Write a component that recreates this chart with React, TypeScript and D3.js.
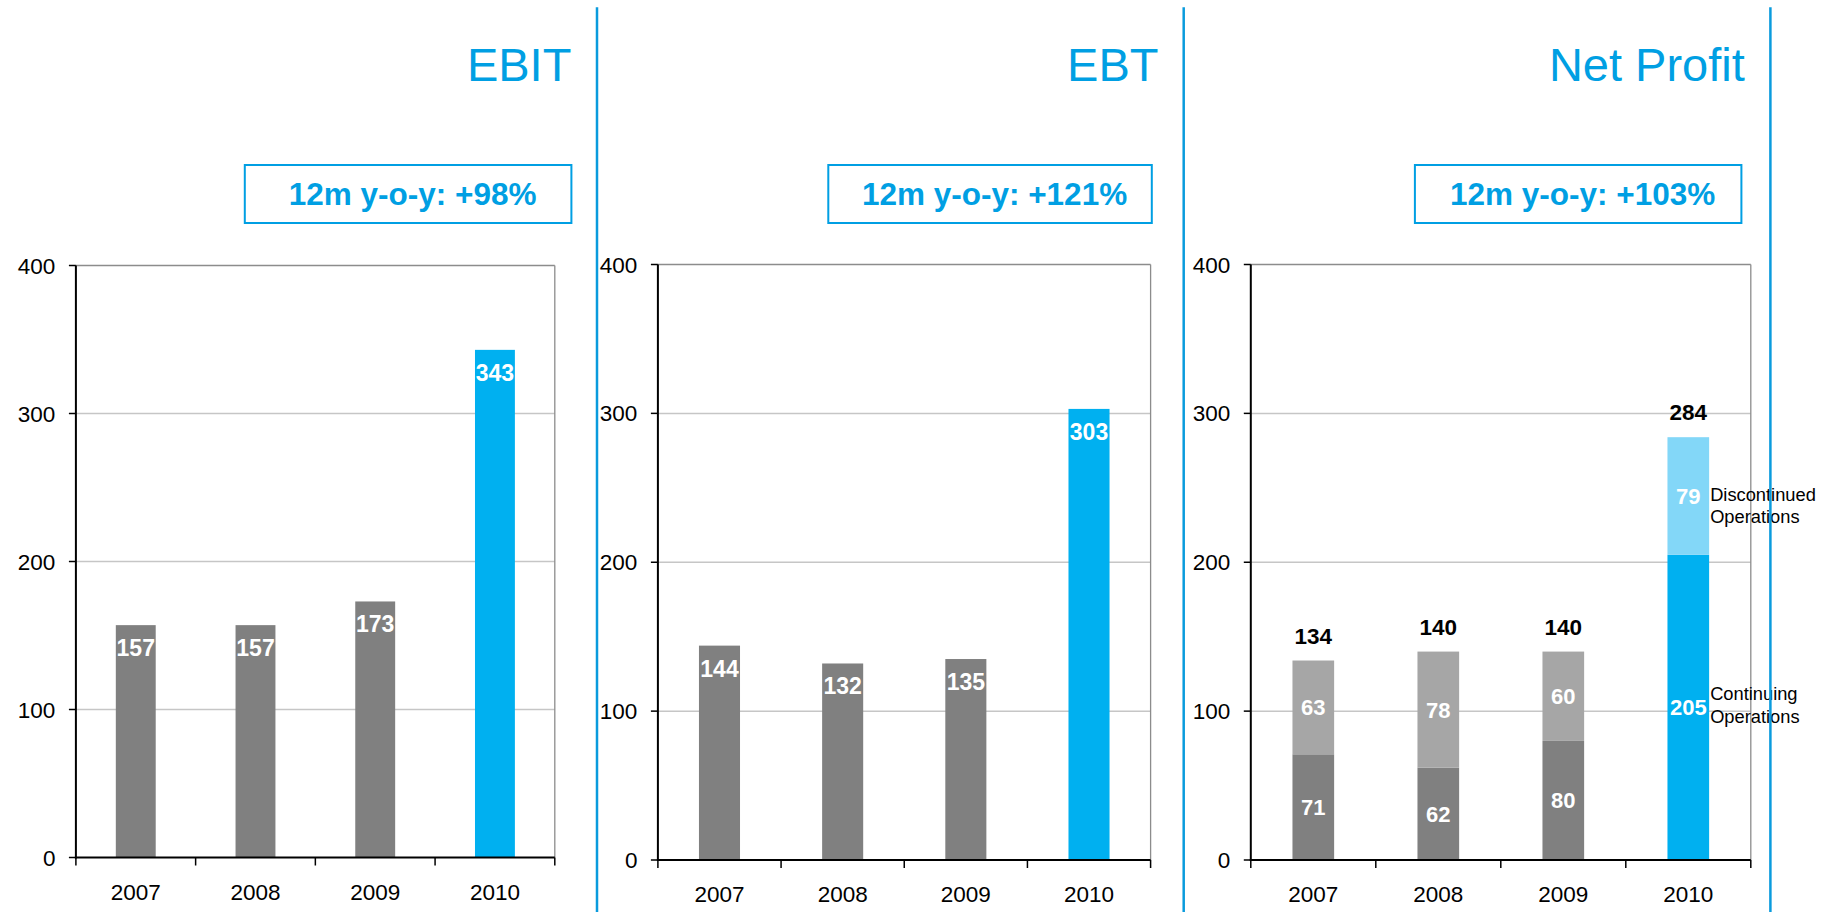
import React from 'react';
import * as d3 from 'd3';

const years = ['2007', '2008', '2009', '2010'];
const ebitValues = [157, 157, 173, 343];
const ebtValues = [144, 132, 135, 303];
const npContinuing = [71, 62, 80, 205];
const npDiscontinued = [63, 78, 60, 79];
const yTicks = [0, 100, 200, 300, 400];
const titles = ['EBIT', 'EBT', 'Net Profit'];
const yoyLabels = ['12m y-o-y: +98%', '12m y-o-y: +121%', '12m y-o-y: +103%'];
const annotationDisc = ['Discontinued', 'Operations'];
const annotationCont = ['Continuing', 'Operations'];

const W = 1840;
const H = 912;
const FONT = '"Liberation Sans", Arial, Helvetica, sans-serif';
const BLUE_TEXT = '#009FE3';
const DIVIDER = '#0A9BDD';
const GRAY = '#808080';
const LIGHT_GRAY = '#A6A6A6';
const BLUE = '#00B0F0';
const LIGHT_BLUE = '#83D7F8';

const layout = [
  { plotL: 75.9, plotR: 554.8, y0: 857.5, yTop: 265.5, titleR: 571.4, boxL: 244.8, boxR: 571.4 },
  { plotL: 657.9, plotR: 1150.6, y0: 860, yTop: 264.5, titleR: 1158.5, boxL: 828.3, boxR: 1151.8 },
  { plotL: 1250.8, plotR: 1750.8, y0: 860, yTop: 264.5, titleR: 1744.8, boxL: 1414.9, boxR: 1741.4 },
];
const dividers = [597, 1183.7, 1770.4];

function Frame({ idx, y }: { idx: number; y: d3.ScaleLinear<number, number> }) {
  const L = layout[idx];
  return (
    <g>
      {yTicks.filter((t) => t > 0 && t < 400).map((t) => (
        <line key={t} x1={L.plotL} x2={L.plotR} y1={y(t)} y2={y(t)} stroke="#C6C6C6" strokeWidth={1.5} />
      ))}
      <line x1={L.plotL} x2={L.plotR} y1={y(400)} y2={y(400)} stroke="#8C8C8C" strokeWidth={1.3} />
      <line x1={L.plotR} x2={L.plotR} y1={y(400)} y2={y(0)} stroke="#8C8C8C" strokeWidth={1.3} />
      <text x={L.titleR} y={81} textAnchor="end" fontFamily={FONT} fontSize={47} fill={BLUE_TEXT}>
        {titles[idx]}
      </text>
      <rect x={L.boxL} y={165} width={L.boxR - L.boxL} height={58} fill="none" stroke={BLUE_TEXT} strokeWidth={2} />
      <text x={(L.boxL + L.boxR) / 2 + 4.5} y={205} textAnchor="middle" fontFamily={FONT} fontWeight="bold" fontSize={31.5} fill={BLUE_TEXT}>
        {yoyLabels[idx]}
      </text>
    </g>
  );
}

function Axes({ idx, x, y }: { idx: number; x: d3.ScaleBand<string>; y: d3.ScaleLinear<number, number> }) {
  const L = layout[idx];
  const step = x.step();
  const boundaries = d3.range(years.length + 1).map((i) => L.plotL + i * step);
  return (
    <g>
      <line x1={L.plotL} x2={L.plotL} y1={y(400)} y2={y(0) + 1} stroke="#000" strokeWidth={2} />
      <line x1={L.plotL - 1} x2={L.plotR} y1={y(0)} y2={y(0)} stroke="#000" strokeWidth={2.2} />
      {yTicks.map((t) => (
        <g key={t}>
          <line x1={L.plotL - 7} x2={L.plotL} y1={y(t)} y2={y(t)} stroke="#000" strokeWidth={1.5} />
          <text x={L.plotL - 20.5} y={y(t)} dy="0.36em" textAnchor="end" fontFamily={FONT} fontSize={22.5} fill="#000">
            {t}
          </text>
        </g>
      ))}
      {boundaries.map((bx, i) => (
        <line key={i} x1={bx} x2={bx} y1={y(0)} y2={y(0) + 8} stroke="#000" strokeWidth={1.5} />
      ))}
      {years.map((yr) => (
        <text key={yr} x={(x(yr) as number) + x.bandwidth() / 2} y={y(0) + 42} textAnchor="middle" fontFamily={FONT} fontSize={22.5} fill="#000">
          {yr}
        </text>
      ))}
    </g>
  );
}

function SimplePanel({ idx, values }: { idx: number; values: number[] }) {
  const L = layout[idx];
  const x = d3.scaleBand<string>().domain(years).range([L.plotL, L.plotR]).paddingInner(2 / 3).paddingOuter(1 / 3);
  const y = d3.scaleLinear().domain([0, 400]).range([L.y0, L.yTop]);
  return (
    <g>
      <Frame idx={idx} y={y} />
      {values.map((v, i) => {
        const bx = x(years[i]) as number;
        const color = i === values.length - 1 ? BLUE : GRAY;
        return (
          <g key={i}>
            <rect x={bx} y={y(v)} width={x.bandwidth()} height={y(0) - y(v)} fill={color} />
            <text x={bx + x.bandwidth() / 2} y={y(v) + 31} textAnchor="middle" fontFamily={FONT} fontWeight="bold" fontSize={23} fill="#fff">
              {v}
            </text>
          </g>
        );
      })}
      <Axes idx={idx} x={x} y={y} />
    </g>
  );
}

function StackedPanel({ idx }: { idx: number }) {
  const L = layout[idx];
  const x = d3.scaleBand<string>().domain(years).range([L.plotL, L.plotR]).paddingInner(2 / 3).paddingOuter(1 / 3);
  const y = d3.scaleLinear().domain([0, 400]).range([L.y0, L.yTop]);
  const rows = years.map((yr, i) => ({ year: yr, cont: npContinuing[i], disc: npDiscontinued[i] }));
  const series = d3.stack<any>().keys(['cont', 'disc'])(rows);
  const last = years.length - 1;
  const colorFor = (key: string, i: number) =>
    key === 'cont' ? (i === last ? BLUE : GRAY) : i === last ? LIGHT_BLUE : LIGHT_GRAY;
  const bw = x.bandwidth();
  const lastX = (x(years[last]) as number) + bw;
  const discSeg = series[1][last];
  const contSeg = series[0][last];
  const discMid = (y(discSeg[0]) + y(discSeg[1])) / 2;
  const contMid = (y(contSeg[0]) + y(contSeg[1])) / 2;
  return (
    <g>
      <Frame idx={idx} y={y} />
      {series.map((s) =>
        s.map((seg, i) => {
          const bx = x(years[i]) as number;
          const val = seg[1] - seg[0];
          return (
            <g key={s.key + i}>
              <rect x={bx} y={y(seg[1])} width={bw} height={y(seg[0]) - y(seg[1])} fill={colorFor(s.key, i)} />
              <text
                x={bx + bw / 2}
                y={(y(seg[0]) + y(seg[1])) / 2}
                dy="0.36em"
                textAnchor="middle"
                fontFamily={FONT}
                fontWeight="bold"
                fontSize={22}
                fill="#fff"
              >
                {val}
              </text>
            </g>
          );
        })
      )}
      {rows.map((r) => {
        const total = r.cont + r.disc;
        return (
          <text key={r.year} x={(x(r.year) as number) + bw / 2} y={y(total) - 17} textAnchor="middle" fontFamily={FONT} fontWeight="bold" fontSize={22.5} fill="#000">
            {total}
          </text>
        );
      })}
      <text x={lastX + 1} y={discMid + 4.5} fontFamily={FONT} fontSize={18.3} fill="#000">
        <tspan x={lastX + 1}>{annotationDisc[0]}</tspan>
        <tspan x={lastX + 1} dy={22.6}>{annotationDisc[1]}</tspan>
      </text>
      <text x={lastX + 1} y={contMid - 7} fontFamily={FONT} fontSize={18.3} fill="#000">
        <tspan x={lastX + 1}>{annotationCont[0]}</tspan>
        <tspan x={lastX + 1} dy={22.6}>{annotationCont[1]}</tspan>
      </text>
      <Axes idx={idx} x={x} y={y} />
    </g>
  );
}

export default function App() {
  return (
    <svg width={W} height={H} viewBox={`0 0 ${W} ${H}`} style={{ position: 'absolute', left: 0, top: 0, background: '#fff' }}>
      <rect x={0} y={0} width={W} height={H} fill="#fff" />
      <SimplePanel idx={0} values={ebitValues} />
      <SimplePanel idx={1} values={ebtValues} />
      <StackedPanel idx={2} />
      {dividers.map((dx) => (
        <line key={dx} x1={dx} x2={dx} y1={7.3} y2={H} stroke={DIVIDER} strokeWidth={2.5} />
      ))}
    </svg>
  );
}
